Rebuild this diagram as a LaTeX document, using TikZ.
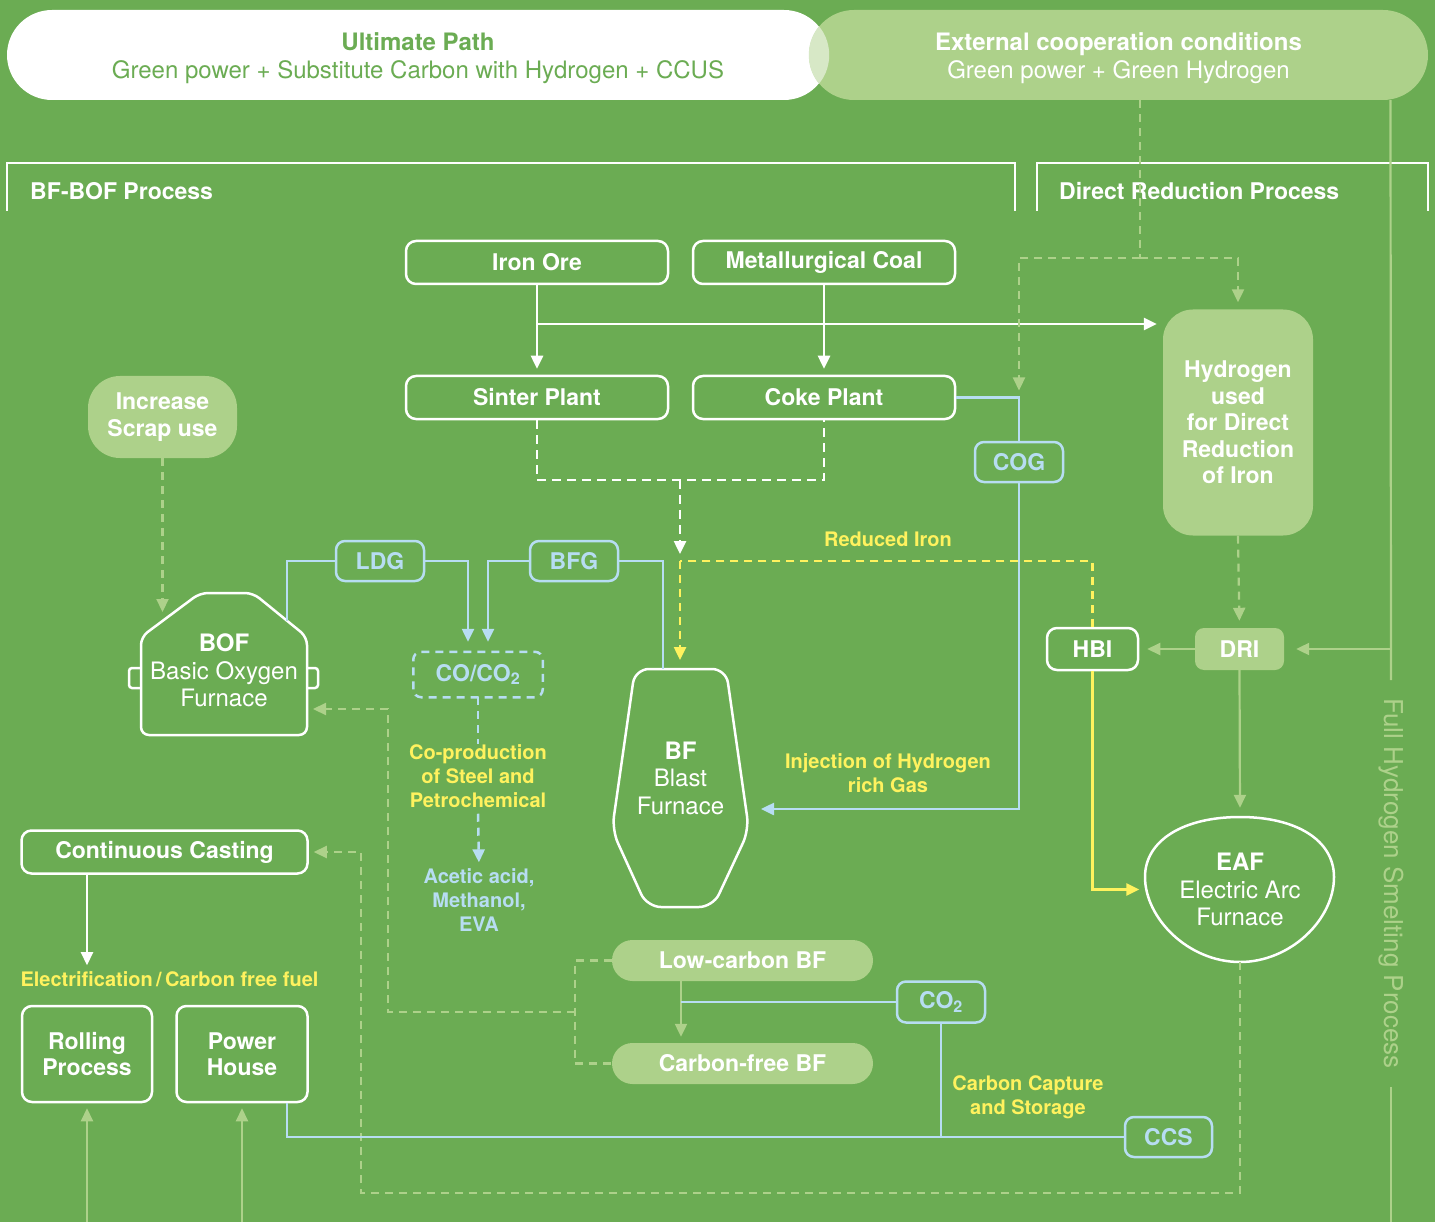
\documentclass[tikz,border=0pt]{standalone}
\usepackage{fontspec}
\setmainfont{TeX Gyre Heros}
\usetikzlibrary{arrows.meta}

\definecolor{bggreen}{HTML}{6BAC53}
\definecolor{ltgreen}{HTML}{ADD18A}
\definecolor{paleg}{HTML}{D7E8C6}
\definecolor{ltblue}{HTML}{B7DDF2}
\definecolor{hiyel}{HTML}{FFF25E}

\newcommand{\boxfont}{\fontsize{23}{26.5}\selectfont\bfseries}
\newcommand{\subfont}{\fontsize{24}{28}\selectfont}
\newcommand{\furnfont}{\fontsize{24}{27.5}\selectfont}
\newcommand{\notefont}{\fontsize{20}{24}\selectfont\bfseries}

\tikzset{
  >={Triangle[length=13pt,width=12pt]},
  wbox/.style={draw=white, line width=2.5pt, rounded corners=10pt, text=white,
    font=\boxfont, inner sep=0pt, align=center},
  gbox/.style={fill=ltgreen, rounded corners=10pt, text=white, font=\boxfont,
    inner sep=0pt, align=center},
  gasbox/.style={draw=ltblue, line width=2.5pt, rounded corners=9pt, text=ltblue,
    font=\boxfont, inner sep=0pt, minimum width=88pt, minimum height=40pt},
  furntext/.style={text=white, font=\furnfont, align=center, inner sep=0pt},
  note/.style={text=hiyel, font=\notefont, align=center, inner sep=0pt},
  wline/.style={white, line width=2.5pt},
  wdash/.style={white, line width=2.5pt, dash pattern=on 9pt off 6pt},
  bline/.style={ltblue, line width=2.5pt},
  bdash/.style={ltblue, line width=2.5pt, dash pattern=on 8pt off 6pt},
  gline/.style={ltgreen, line width=2.2pt},
  gdash/.style={ltgreen, line width=2.2pt, dash pattern=on 8pt off 6pt},
  yline/.style={hiyel, line width=2.5pt},
  ydash/.style={hiyel, line width=2.5pt, dash pattern=on 8pt off 6pt},
}

\begin{document}
\begin{tikzpicture}[x=1pt,y=-1pt]
  \useasboundingbox (0,0) rectangle (1435,1222);
  \fill[bggreen] (0,0) rectangle (1435,1222);

  % top banners
  \node[fill=white, rounded corners=45pt, minimum width=822pt, minimum height=90pt,
    inner sep=0pt, align=center, text=bggreen, font=\subfont] (ultimate) at (418,55)
    {{\bfseries\rule{0pt}{24pt}Ultimate Path}\\Green power + Substitute Carbon with Hydrogen + CCUS};
  \node[fill=ltgreen, rounded corners=45pt, minimum width=619pt, minimum height=90pt,
    inner sep=0pt, align=center, text=white, font=\subfont] (ext) at (1118.5,55)
    {{\bfseries\rule{0pt}{24pt}External cooperation conditions}\\Green power + Green Hydrogen};
  \begin{scope}
    \clip[rounded corners=45pt] (ultimate.south west) rectangle (ultimate.north east);
    \fill[paleg, rounded corners=45pt] (ext.south west) rectangle (ext.north east);
  \end{scope}

  % process brackets
  \draw[wline] (7,211) |- (1015,163) -- (1015,211);
  \node[anchor=west, text=white, font=\boxfont, inner sep=0pt] (bfboftitle) at (30,191) {BF-BOF Process};
  \draw[wline] (1037,211) |- (1428,163) -- (1428,211);
  \node[anchor=west, text=white, font=\boxfont, inner sep=0pt] (drtitle) at (1059,191) {Direct Reduction Process};

  % boxes
  \node[wbox, minimum width=262pt, minimum height=43pt] (ironore) at (537,262.5) {Iron Ore};
  \node[wbox, minimum width=262pt, minimum height=43pt] (metcoal) at (824,262.5) {Metallurgical Coal};
  \node[wbox, minimum width=262pt, minimum height=43pt] (sinter) at (537,397.5) {Sinter Plant};
  \node[wbox, minimum width=262pt, minimum height=43pt] (coke) at (824,397.5) {Coke Plant};
  \node[gbox, rounded corners=30pt, minimum width=150pt, minimum height=226pt] (hydro) at (1238,422.5)
    {Hydrogen\\used\\for Direct\\Reduction\\of Iron};
  \node[gbox, rounded corners=32pt, minimum width=149pt, minimum height=82pt] (scrap) at (162.5,417)
    {Increase\\Scrap use};
  \node[gasbox] (ldg) at (380,561) {LDG};
  \node[gasbox] (bfg) at (574,561) {BFG};
  \node[gasbox] (cog) at (1019,462) {COG};
  \node[gasbox, draw=none, minimum width=127pt, minimum height=43pt] (coco) at (478,674.5) {CO/CO\textsubscript{2}};
  \draw[bdash, rounded corners=8pt] (coco.south west) rectangle (coco.north east);
  \node[wbox, minimum width=91pt, minimum height=42pt] (hbi) at (1092.5,649) {HBI};
  \node[gbox, rounded corners=9pt, minimum width=89pt, minimum height=42pt] (dri) at (1239.5,649) {DRI};
  \node[wbox, minimum width=286pt, minimum height=43pt] (cc) at (164.5,852) {Continuous Casting};
  \node[wbox, minimum width=130pt, minimum height=96pt] (rolling) at (87,1054) {Rolling\\Process};
  \node[wbox, minimum width=131pt, minimum height=96pt] (power) at (242,1054) {Power\\House};
  \node[gbox, rounded corners=20.5pt, minimum width=261pt, minimum height=41pt] (lowc) at (742.5,960.5) {Low-carbon BF};
  \node[gbox, rounded corners=20.5pt, minimum width=261pt, minimum height=41pt] (cfree) at (742.5,1063.5) {Carbon-free BF};
  \node[gasbox, minimum height=41pt] (co2) at (941,1002) {CO\textsubscript{2}};
  \node[gasbox, minimum width=87pt] (ccs) at (1168.5,1137) {CCS};

  % furnaces
  \draw[wline, rounded corners=8pt] (226,593) -- (253,593) -- (307,637) -- (307,735)
    -- (141,735) -- (141,637) -- (200,593) -- cycle;
  \draw[wline, rounded corners=3pt] (141,668) -- (129,668) -- (129,688) -- (141,688);
  \draw[wline, rounded corners=3pt] (307,668) -- (318,668) -- (318,688) -- (307,688);
  \node[furntext] (bof) at (224,670.5) {{\bfseries BOF}\\Basic Oxygen\\Furnace};
  \draw[wline, rounded corners=14pt] (681,669) -- (726,669) -- (749,830) -- (713,907)
    -- (647,907) -- (612,830) -- (635,669) -- cycle;
  \node[furntext] (bf) at (680.5,778) {{\bfseries BF}\\Blast\\Furnace};
  \draw[wline] (1240,817) .. controls (1296,817) and (1334,840) .. (1334,877)
    .. controls (1334,920) and (1290,962) .. (1240,962)
    .. controls (1188,962) and (1145,918) .. (1145,877)
    .. controls (1145,840) and (1184,817) .. (1240,817);
  \node[furntext, minimum width=189pt, minimum height=145pt] (eaf) at (1240,889.5)
    {{\bfseries EAF}\\Electric Arc\\Furnace};

  % labels
  \node[note] (rediron) at (888,539) {Reduced Iron};
  \node[note] (inject) at (888,773) {Injection of Hydrogen\\rich Gas};
  \node[note] (copro) at (478,776) {Co-production\\of Steel and\\Petrochemical};
  \node[note, text=ltblue] (acetic) at (479,900) {Acetic acid,\\Methanol,\\EVA};
  \node[note] (elec) at (169.5,979) {Electrification\,/\,Carbon free fuel};
  \node[note] (ccstext) at (1028,1097) {Carbon Capture\\and Storage};
  \node[text=ltgreen, font=\fontsize{26}{30}\selectfont, rotate=-90, inner xsep=18pt, inner ysep=0pt]
    (fullh) at (1391,883.5) {Full Hydrogen Smelting Process};

  \coordinate (orebranch) at (537,324);
  \coordinate (mix) at (680,480);
  \coordinate (riron) at (680,561);
  \coordinate (bftop) at (680,669);
  \coordinate (bfin) at (663,669);
  \coordinate (bfinj) at (746,809);
  \coordinate (bofvent) at (287,621);
  \coordinate (boftop) at (162.5,621);
  \coordinate (bofback) at (307,709);
  \coordinate (bfjoin) at (575,1012);
  \coordinate (extsplit) at (1140,258);
  \coordinate (pagebot) at (0,1222);

  % raw materials
  \draw[wline,->,shorten >=6pt] (ironore.south) -- (sinter.north);
  \draw[wline,->,shorten >=6pt] (metcoal.south) -- (coke.north);
  \draw[wline,->,shorten >=6pt] (orebranch) -- (orebranch -| hydro.west);
  \draw[wdash] (sinter.south) |- (mix) -| (coke.south);
  \draw[wdash,->,shorten >=7pt] (mix) -- (riron);

  % gases
  \draw[bline] (coke.east) -| (cog.north);
  \draw[bline,->,shorten >=15pt] (cog.south) |- (bfinj);
  \draw[bline] (ldg.west) -| (bofvent);
  \draw[bline,->,shorten >=10pt] (ldg.east) -| ([xshift=-10pt]coco.north);
  \draw[bline,->,shorten >=10pt] (bfg.west) -| ([xshift=10pt]coco.north);
  \draw[bline] (bfg.east) -| (bfin);
  \draw[bdash] (coco.south) -- (copro.north);
  \draw[bdash,->,shorten <=6pt,shorten >=6pt] (copro.south) -- (acetic.north);

  % reduced iron
  \draw[ydash] (hbi.north) |- (riron);
  \draw[ydash,->,shorten >=9pt] (riron) -- (bftop);
  \draw[yline,->,shorten >=6pt] (hbi.south) |- (eaf.west);

  % hydrogen route
  \draw[gdash] ([xshift=21.5pt]ext.south) -- (extsplit);
  \draw[gdash,->,shorten >=7pt] (extsplit) -| (hydro.north);
  \draw[gdash,->,shorten >=7pt] (extsplit) -| (cog.north |- coke.east);
  \draw[gline] ([xshift=272pt]ext.south) -- (fullh.west);
  \draw[gline] (fullh.east) -- (fullh.east |- pagebot);
  \draw[gline,->,shorten >=12pt] (fullh.west |- dri.east) -- (dri.east);
  \draw[gdash,->,shorten >=7pt] (hydro.south) -- (dri.north);
  \draw[gline,->,shorten >=8pt] (dri.west) -- (hbi.east);
  \draw[gline,->,shorten >=9pt] (dri.south) -- (eaf.north);

  % scrap, casting, recycling
  \draw[gdash,->,shorten >=9pt] (scrap.south) -- (boftop);
  \draw[gdash,->,shorten >=5pt] (eaf.south) |- (361,1193) |- (cc.east);
  \draw[gdash] (lowc.west) -| (bfjoin) |- (cfree.west);
  \draw[gdash,->,shorten >=6pt] (bfjoin) -- ++(-187,0) |- (bofback);
  \draw[gline,->,shorten >=6pt] ([xshift=-61.5pt]lowc.south) -- ([xshift=-61.5pt]cfree.north);
  \draw[wline,->,shorten >=6pt] (rolling.north |- cc.south) -- (rolling.north |- elec.north);
  \draw[gline,->,shorten >=5pt] (rolling.south |- pagebot) -- (rolling.south);
  \draw[gline,->,shorten >=5pt] (power.south |- pagebot) -- (power.south);

  % carbon capture
  \draw[bline] (co2.west) -- ([xshift=-61.5pt]lowc.south |- co2.west);
  \draw[bline] (co2.south) -- (co2.south |- ccs.west);
  \draw[bline] ([xshift=45pt]power.south) |- (ccs.west);
\end{tikzpicture}
\end{document}
